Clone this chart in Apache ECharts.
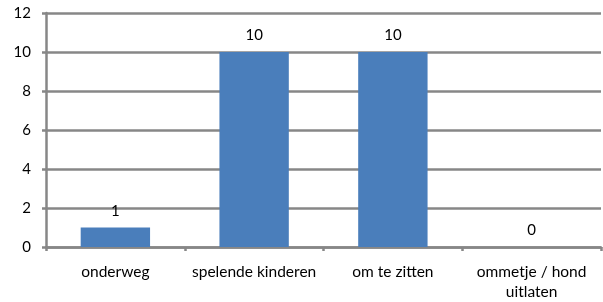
<!DOCTYPE html>
<html>
<head>
<meta charset="utf-8">
<script src="https://cdn.jsdelivr.net/npm/echarts@6/dist/echarts.min.js"></script>
<style>
  html, body { margin: 0; padding: 0; background: #fff; }
  #main { width: 603px; height: 302px; }
</style>
</head>
<body>
<div id="main"></div>
<script>
// categorieën en waarden
var categories = ['onderweg', 'spelende kinderen', 'om te zitten', 'ommetje / hond\nuitlaten']
var values = [1, 10, 10, 0]
var yTicks = [0, 2, 4, 6, 8, 10, 12]

var chart = echarts.init(document.getElementById('main'))
chart.setOption({
  animation: false,
  textStyle: { fontFamily: 'Lato, sans-serif' },
  grid: { left: 46, right: 2, top: 13, bottom: 53, containLabel: false },
  xAxis: {
    type: 'category',
    data: categories,
    axisLine: { lineStyle: { color: '#878787', width: 2.5 } },
    axisTick: { show: true, length: 4, lineStyle: { color: '#878787', width: 2.5 } },
    axisLabel: { color: '#000', fontSize: 15.5, margin: 15, lineHeight: 20, interval: 0 }
  },
  yAxis: {
    type: 'value',
    min: yTicks[0],
    max: yTicks[yTicks.length - 1],
    interval: 2,
    axisLine: { show: true, lineStyle: { color: '#878787', width: 2.5 } },
    axisTick: { show: true, length: 4, lineStyle: { color: '#878787', width: 2.5 } },
    axisLabel: { color: '#000', fontSize: 15, margin: 15 },
    splitLine: { lineStyle: { color: '#878787', width: 2.5 } }
  },
  series: [
    {
      type: 'bar',
      data: values,
      barWidth: '50%',
      itemStyle: { color: '#4a7ebb' },
      label: { show: true, position: 'top', color: '#000', fontSize: 15, distance: 9 }
    }
  ]
})
</script>
</body>
</html>
